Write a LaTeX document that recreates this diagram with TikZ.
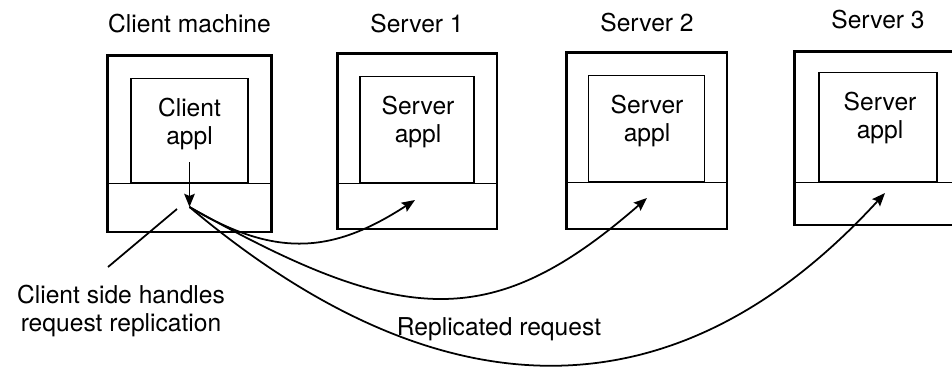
\documentclass[tikz,border=0pt]{standalone}
\usepackage{fontspec}
\setmainfont{TeX Gyre Heros}
\usetikzlibrary{positioning,arrows.meta}

\tikzset{
  machine/.style = {draw, line width=1.7pt, inner sep=0pt},
  layer/.style   = {draw, line width=0.9pt, inner sep=0pt, anchor=south},
  appbox/.style  = {draw, line width=0.8pt, inner sep=0pt, anchor=south},
  lbl/.style     = {font=\fontsize{14}{16}\selectfont, align=center, inner sep=0pt},
  title/.style   = {lbl, anchor=base},
  req/.style     = {line width=1pt, -{Stealth[length=7.5pt,width=6pt,inset=1.2pt]}}
}

\begin{document}
\begin{tikzpicture}[x=0.02cm, y=-0.02cm]
  \useasboundingbox (0,0) rectangle (952,370);

  % client machine
  \node[machine, minimum width=3.30cm, minimum height=3.54cm] (client) at (189.5,143.5) {};
  \node[layer, minimum width=3.30cm, minimum height=0.98cm] (clayer) at (client.south) {};
  \node[appbox, minimum width=2.34cm, minimum height=2.08cm] (capp) at (clayer.north) {};
  \node[lbl] (capptxt) at (189.5,124) {Client\\appl};
  \node[title] (ctitle) at (189.5,32) {Client machine};

  % server 1
  \node[machine, minimum width=3.20cm, minimum height=3.52cm] (srv1) at (417,141) {};
  \node[layer, minimum width=3.20cm, minimum height=0.92cm] (slayer1) at (srv1.south) {};
  \node[appbox, minimum width=2.28cm, minimum height=2.12cm] (sapp1) at (slayer1.north) {};
  \node[lbl] (sapptxt1) at (418,122) {Server\\appl};
  \node[title] (stitle1) at (417,32) {Server 1};

  % server 2
  \node[machine, minimum width=3.22cm, minimum height=3.54cm] (srv2) at (646.5,140.5) {};
  \node[layer, minimum width=3.22cm, minimum height=0.94cm] (slayer2) at (srv2.south) {};
  \node[appbox, minimum width=2.32cm, minimum height=2.12cm] (sapp2) at (slayer2.north) {};
  \node[lbl] (sapptxt2) at (647,121) {Server\\appl};
  \node[title] (stitle2) at (647,31) {Server 2};

  % server 3 (cut off at the right)
  \node[machine, minimum width=3.36cm, minimum height=3.48cm] (srv3) at (878,138) {};
  \node[layer, minimum width=3.36cm, minimum height=0.86cm] (slayer3) at (srv3.south) {};
  \node[appbox, minimum width=2.36cm, minimum height=2.18cm] (sapp3) at (slayer3.north) {};
  \node[lbl] (sapptxt3) at (880,118) {Server\\appl};
  \node[title] (stitle3) at (878,28) {Server 3};

  % where the requests go in and out
  \coordinate (cin)  at (189.5,162);
  \coordinate (fork) at (189.5,207);
  \coordinate (hit1) at (415,200);
  \coordinate (hit2) at (647,198);
  \coordinate (hit3) at (885,193);
  \coordinate (ann)  at (177,209);

  \draw[req] (cin) -- (fork);
  \draw[req] (fork) .. controls (275,258) and (332,254) .. (hit1);
  \draw[req] (fork) .. controls (403,327) and (492,333) .. (hit2);
  \draw[req] (fork) .. controls (390,376) and (640,460) .. (hit3);

  % annotations
  \node[lbl] (note) at (121,311) {Client side handles\\request replication};
  \draw[line width=1pt] (108,267) -- (ann);
  \node[lbl] (replbl) at (499,329) {Replicated request};
\end{tikzpicture}
\end{document}
